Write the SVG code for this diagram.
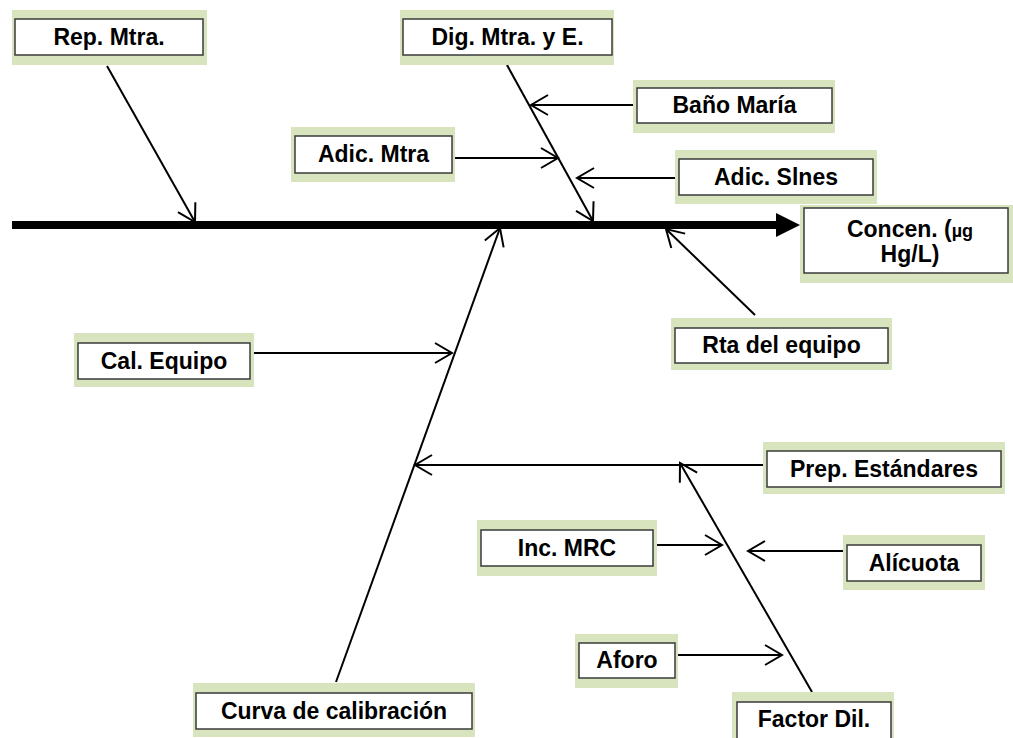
<svg xmlns="http://www.w3.org/2000/svg" width="1013" height="738" viewBox="0 0 1013 738">
<style>
.bg{fill:#d7e4bd}
.bx{fill:#fff;stroke:#3a3a3a;stroke-width:1.5}
.t{font-family:"Liberation Sans",Arial,sans-serif;font-weight:bold;font-size:23px;fill:#000;text-anchor:middle}
.c{stroke:#000;stroke-width:2;fill:none}
</style>
<defs>
<marker id="ah" viewBox="-19 -12 21 24" refX="0" refY="0" markerWidth="21" markerHeight="24" markerUnits="userSpaceOnUse" orient="auto">
<path d="M-17,-10 L0,0 L-17,10" fill="none" stroke="#000" stroke-width="2"/>
</marker>
</defs>
<rect width="1013" height="738" fill="#fff"/>
<g id="connectors">
<line x1="12" y1="225" x2="778" y2="225" stroke="#000" stroke-width="8"/>
<polygon points="776,213 800,225 776,237" fill="#000"/>
<line class="c" x1="107" y1="66" x2="195" y2="222" marker-end="url(#ah)"/>
<line class="c" x1="507" y1="65" x2="593" y2="221" marker-end="url(#ah)"/>
<line class="c" x1="637" y1="105" x2="531" y2="105" marker-end="url(#ah)"/>
<line class="c" x1="455" y1="158" x2="558" y2="158" marker-end="url(#ah)"/>
<line class="c" x1="679" y1="178" x2="577" y2="178" marker-end="url(#ah)"/>
<line class="c" x1="755" y1="315" x2="666" y2="229" marker-end="url(#ah)"/>
<line class="c" x1="336" y1="682" x2="500" y2="228" marker-end="url(#ah)"/>
<line class="c" x1="252" y1="353" x2="452" y2="353" marker-end="url(#ah)"/>
<line class="c" x1="765" y1="465" x2="415" y2="465" marker-end="url(#ah)"/>
<line class="c" x1="812" y1="692" x2="680" y2="463" marker-end="url(#ah)"/>
<line class="c" x1="653" y1="545" x2="722" y2="545" marker-end="url(#ah)"/>
<line class="c" x1="847" y1="551" x2="748" y2="551" marker-end="url(#ah)"/>
<line class="c" x1="678" y1="655" x2="782" y2="655" marker-end="url(#ah)"/>
</g>
<g id="rep-mtra"><rect class="bg" x="12" y="10" width="195" height="55"/><rect class="bx" x="15" y="19" width="188" height="36"/><text class="t" x="109" y="45">Rep. Mtra.</text></g>
<g id="dig-mtra"><rect class="bg" x="400" y="10" width="214" height="55"/><rect class="bx" x="403" y="19" width="209" height="36"/><text class="t" x="507.5" y="45">Dig. Mtra. y E.</text></g>
<g id="bano-maria"><rect class="bg" x="633" y="80" width="202" height="53"/><rect class="bx" x="637" y="88" width="195" height="35"/><text class="t" x="734.5" y="113">Baño María</text></g>
<g id="adic-mtra"><rect class="bg" x="291" y="127" width="164" height="55"/><rect class="bx" x="295" y="136" width="157" height="37"/><text class="t" x="373.5" y="162">Adic. Mtra</text></g>
<g id="adic-slnes"><rect class="bg" x="675" y="150" width="202" height="54"/><rect class="bx" x="679" y="159" width="194" height="36"/><text class="t" x="776" y="185">Adic. Slnes</text></g>
<g id="concen"><rect class="bg" x="800" y="205" width="213" height="78"/><rect class="bx" x="804" y="208" width="204" height="65"/><text class="t" x="910" y="237">Concen. (<tspan font-size="18">µg</tspan></text><text class="t" x="910" y="262">Hg/L)</text></g>
<g id="rta-equipo"><rect class="bg" x="671" y="318" width="221" height="52"/><rect class="bx" x="675" y="328" width="213" height="35"/><text class="t" x="781.5" y="353">Rta del equipo</text></g>
<g id="cal-equipo"><rect class="bg" x="74" y="333" width="180" height="54"/><rect class="bx" x="78" y="343" width="172" height="36"/><text class="t" x="164" y="369">Cal. Equipo</text></g>
<g id="prep-estandares"><rect class="bg" x="763" y="442" width="242" height="52"/><rect class="bx" x="767" y="451" width="234" height="36"/><text class="t" x="884" y="477">Prep. Estándares</text></g>
<g id="inc-mrc"><rect class="bg" x="477" y="520" width="180" height="56"/><rect class="bx" x="481" y="530" width="172" height="36"/><text class="t" x="567" y="556">Inc. MRC</text></g>
<g id="alicuota"><rect class="bg" x="843" y="535" width="142" height="55"/><rect class="bx" x="847" y="545" width="134" height="36"/><text class="t" x="914" y="571">Alícuota</text></g>
<g id="aforo"><rect class="bg" x="575" y="634" width="103" height="54"/><rect class="bx" x="579" y="643" width="96" height="35"/><text class="t" x="627" y="668">Aforo</text></g>
<g id="factor-dil"><rect class="bg" x="732" y="692" width="162" height="50"/><rect class="bx" x="737" y="702" width="154" height="40"/><text class="t" x="814" y="727">Factor Dil.</text></g>
<g id="curva"><rect class="bg" x="193" y="683" width="282" height="54"/><rect class="bx" x="196" y="693" width="276" height="36"/><text class="t" x="334" y="719">Curva de calibración</text></g>
</svg>
